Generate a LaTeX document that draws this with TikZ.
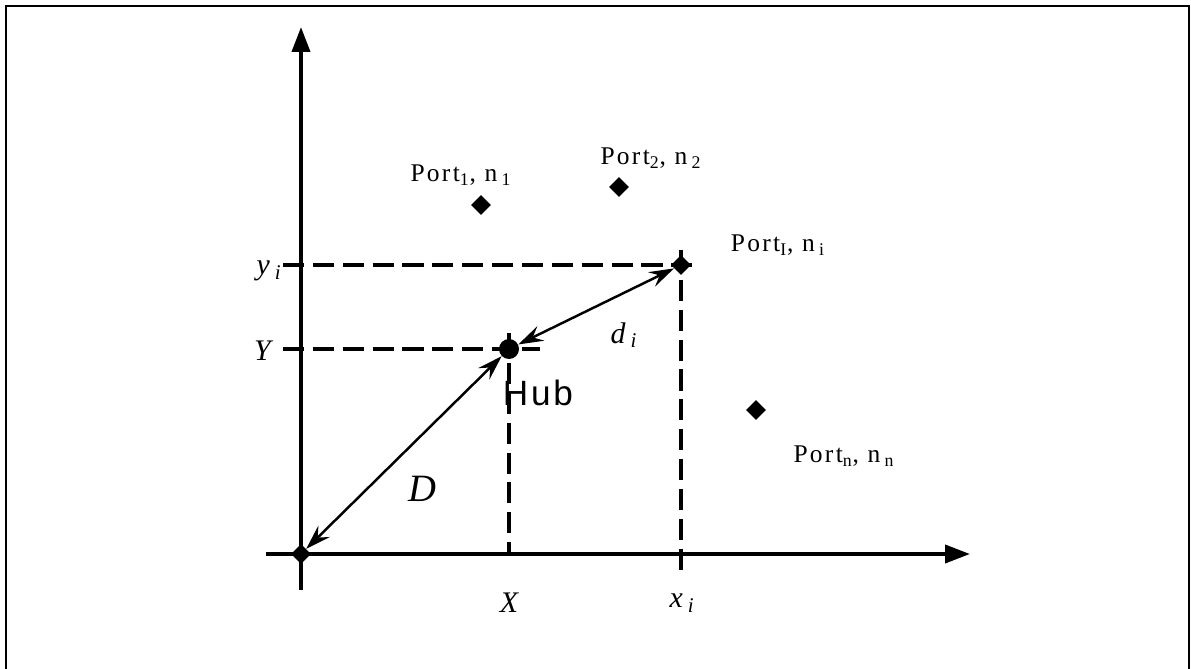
\documentclass[tikz,border=0pt]{standalone}
\usepackage{fontspec}
\setmainfont{Liberation Serif}
\newfontfamily\portfont[LetterSpace=9]{Liberation Serif}
\newfontfamily\hubfont[LetterSpace=8]{Liberation Sans}
\usetikzlibrary{arrows.meta, shapes.geometric}

\begin{document}
\begin{tikzpicture}[
    axis/.style={line width=2.2pt, -{Triangle[length=0.5cm, width=0.36cm]}},
    guide/.style={line width=2pt, dash pattern=on 12pt off 5pt},
    dist/.style={line width=1.4pt, {Stealth[length=0.5cm, width=0.32cm, inset=0.18cm]}-{Stealth[length=0.5cm, width=0.32cm, inset=0.18cm]}},
    port/.style={diamond, fill=black, inner sep=0pt, minimum size=0.4cm},
    hubdot/.style={circle, fill=black, inner sep=0pt, minimum size=0.4cm},
    portlabel/.style={font=\portfont\fontsize{14.5}{16}\selectfont, inner sep=0pt},
    coord/.style={font=\fontsize{17}{19}\selectfont\itshape, inner sep=0pt}
]
\useasboundingbox (-6.02,-2.28) rectangle (17.80,11.08);

% frame (open at the bottom)
\draw[line width=1.6pt] (-5.90,-2.40) -- (-5.90,10.96) -- (17.76,10.96) -- (17.76,-2.40);

% axes
\coordinate (xstart) at (-0.70,0);
\coordinate (xend) at (13.38,0);
\coordinate (ystart) at (0,-0.72);
\coordinate (yend) at (0,10.54);
\draw[axis] (xstart) -- (xend);
\draw[axis] (ystart) -- (yend);

% points
\node[port] (o) at (0,0) {};
\node[hubdot] (hub) at (4.16,4.10) {};
\node[port] (pi) at (7.60,5.78) {};
\node[port] (p1) at (3.60,6.98) {};
\node[port] (p2) at (6.36,7.34) {};
\node[port] (pn) at (9.10,2.88) {};

% projections
\coordinate (yiL) at (-0.36,5.78);
\coordinate (yiR) at (7.84,5.78);
\coordinate (YL) at (-0.36,4.10);
\coordinate (YR) at (4.78,4.10);
\coordinate (XT) at (4.16,4.42);
\coordinate (XB) at (4.16,0);
\coordinate (xiT) at (7.60,6.08);
\coordinate (xiB) at (7.60,-0.38);
\draw[guide] (yiL) -- (yiR);
\draw[guide] (YL) -- (YR);
\draw[guide] (XT) -- (XB);
\draw[guide] (xiT) -- (xiB);

% distances
\draw[dist] (o) -- (hub);
\draw[dist] (hub) -- (pi);

% labels
\node[coord, anchor=east] (lyi) at (-0.38,5.66) {y\,\textsubscript{i}};
\node[coord, anchor=east] (lY) at (-0.60,4.06) {Y};
\node[coord] (lX) at (4.16,-0.98) {X};
\node[coord] (lxi) at (7.62,-0.98) {x\,\textsubscript{i}};
\node[coord, font=\fontsize{22}{25}\selectfont\itshape] (lD) at (2.42,1.30) {D};
\node[coord] (ldi) at (6.46,4.38) {d\,\textsubscript{i}};
\node[font=\hubfont\fontsize{20}{24}\selectfont, inner sep=0pt] (lhub) at (4.74,3.22) {Hub};

\node[portlabel] (lp1) at (3.20,7.58) {Port\textsubscript{1}, n\,\textsubscript{1}};
\node[portlabel] (lp2) at (7.00,7.92) {Port\textsubscript{2}, n\,\textsubscript{2}};
\node[portlabel] (lpi) at (9.54,6.18) {Port\textsubscript{I}, n\,\textsubscript{i}};
\node[portlabel] (lpn) at (10.86,1.96) {Port\textsubscript{n}, n\,\textsubscript{n}};

\end{tikzpicture}
\end{document}
